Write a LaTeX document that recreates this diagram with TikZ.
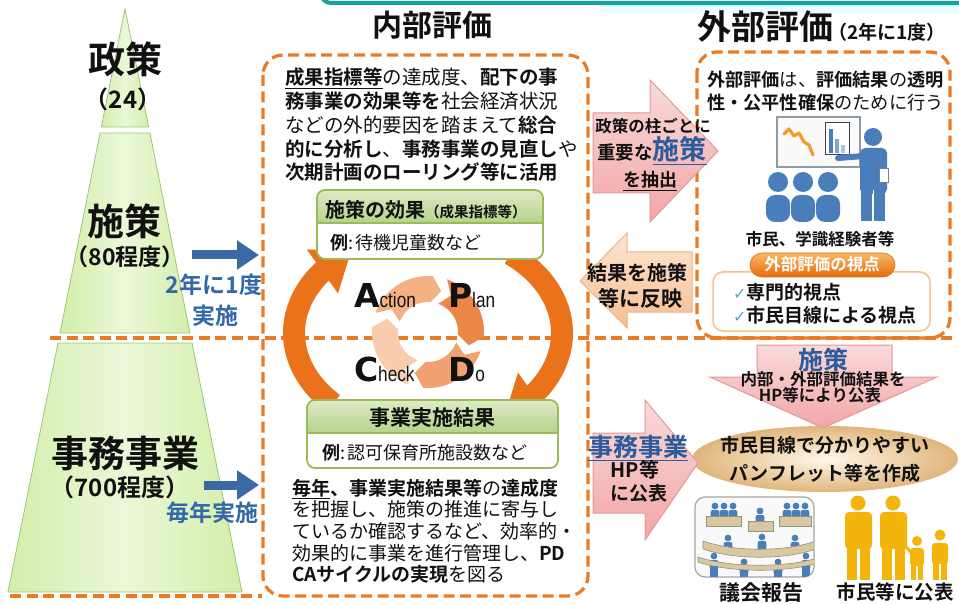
\documentclass[tikz,border=0pt]{standalone}
\usepackage{fontspec}
\usepackage{graphicx}
\setmainfont{Noto Sans CJK JP}[BoldFont={Noto Sans CJK JP Bold}]
\newfontfamily\pdcabig{DejaVu Sans}
\newfontfamily\pdcasmall{Liberation Sans}
\newfontfamily\symfont{DejaVu Sans}
\usetikzlibrary{arrows.meta}

\definecolor{ink}{HTML}{111111}
\definecolor{dashorange}{HTML}{EC7A22}
\definecolor{arcorange}{HTML}{E9721B}
\definecolor{pyrfill}{HTML}{D3EEAA}
\definecolor{pyrlight}{HTML}{EAF8D8}
\definecolor{pyredge}{HTML}{9DC67C}
\definecolor{bluetxt}{HTML}{3468A8}
\definecolor{arrowblue}{HTML}{3B69A6}
\definecolor{greenedge}{HTML}{9BBB59}
\definecolor{greentop}{HTML}{DDEBC6}
\definecolor{greenbot}{HTML}{B7D28A}
\definecolor{pinktop}{HTML}{FADADA}
\definecolor{pinkbot}{HTML}{F2A6A7}
\definecolor{pinkedge}{HTML}{E39899}
\definecolor{peachtop}{HTML}{FDE5D0}
\definecolor{peachbot}{HTML}{F6BE93}
\definecolor{peachedge}{HTML}{EEB27F}
\definecolor{ringA}{HTML}{F4B183}
\definecolor{ringB}{HTML}{EC8747}
\definecolor{ringC}{HTML}{F0A272}
\definecolor{ringD}{HTML}{F8CDAF}
\definecolor{bannerteal}{HTML}{17A0A0}
\definecolor{peopleblue}{HTML}{4A7EBB}
\definecolor{citizengold}{HTML}{F3B40C}
\definecolor{checkblue}{HTML}{4BACC6}
\definecolor{pilltop}{HTML}{FAB866}
\definecolor{pillbot}{HTML}{E36C0A}
\definecolor{pillbox}{HTML}{F3C28E}
\definecolor{blobin}{HTML}{FFF8EA}
\definecolor{blobout}{HTML}{E0B57A}
\definecolor{deskfill}{HTML}{D8C7A0}
\definecolor{deskedge}{HTML}{9A9080}
\definecolor{boardedge}{HTML}{8E9AA6}
\definecolor{chartorange}{HTML}{F29B30}
\definecolor{titleblue}{HTML}{2C5C9C}

\newcommand\setfz[1]{\fontsize{#1}{#1}\selectfont}
% one arrow segment of the small PDCA ring: start, end, tip angle, notch angle, colour
\newcommand\ringseg[5]{%
  \fill[#5] plot[domain=#1:#2,samples=24] ({428+56*cos(\x)},{332+56*sin(\x)})
    -- ({428+43*cos(#3)},{332+43*sin(#3)})
    -- plot[domain=#2:#1,samples=24] ({428+30*cos(\x)},{332+30*sin(\x)})
    -- ({428+43*cos(#4)},{332+43*sin(#4)}) -- cycle;}
% a small seated member in the council icon
\newcommand\seat[2]{%
  \fill[peopleblue] (#1,#2) circle (3.4);
  \fill[peopleblue,rounded corners=1.5pt] ({#1-4.3},{#2+4}) rectangle ({#1+4.3},{#2+13});}

\begin{document}
\begin{tikzpicture}[x=1pt,y=-1pt,
  lbl/.style={inner sep=0pt, outer sep=0pt, anchor=base west, text=ink},
  clbl/.style={inner sep=0pt, outer sep=0pt, anchor=base, text=ink},
  dashedge/.style={draw=dashorange, line width=3.2pt, dash pattern=on 11pt off 5.5pt},
  pyrpart/.style={left color=pyrfill, right color=pyrfill, middle color=pyrlight, draw=pyredge, line width=0.8pt},
  bluearrow/.style={draw=arrowblue, line width=9pt, -{Triangle[width=28pt,length=22pt]}},
  bigarc/.style={draw=arcorange, line width=22pt},
  greenbox/.style={draw=greenedge, line width=1.8pt, rounded corners=8pt},
  pinkarrow/.style={top color=pinktop, bottom color=pinkbot, draw=pinkedge, line width=1pt},
  peacharrow/.style={top color=peachtop, bottom color=peachbot, draw=peachedge, line width=1pt},
  deskstyle/.style={fill=deskfill, draw=deskedge, line width=0.6pt},
  citizen/.style={fill=citizengold},
  presenter/.style={fill=peopleblue}
]
\useasboundingbox (0,0) rectangle (959,604);
\fill[white] (0,0) rectangle (959,604);

% ---- banner edge at the top
\shade[top color=cyan!18, bottom color=white] (600,4) rectangle (959,14);
\draw[bannerteal, line width=4pt, rounded corners=10pt] (321,-12) -- (321,3) -- (968,3);

% ---- pyramid
\path[pyrpart] (125,9) -- (148.7,127) -- (101.3,127) -- cycle;
\path[pyrpart] (100.1,133) -- (149.9,133) -- (190,333) -- (60,333) -- cycle;
\path[pyrpart] (58,343) -- (192,343) -- (242,592) -- (8,592) -- cycle;

\node[clbl] (seisaku) at (125,74) {\setfz{37}\textbf{政策}};
\node[clbl] (seisakuN) at (123,109) {\setfz{24}\textbf{（24）}};
\node[clbl] (shisaku) at (124,236) {\setfz{37}\textbf{施策}};
\node[clbl] (shisakuN) at (125,266) {\setfz{23}\textbf{（80程度）}};
\node[clbl] (jimu) at (125,467) {\setfz{37}\textbf{事務事業}};
\node[clbl] (jimuN) at (120,496) {\setfz{24}\textbf{（700程度）}};

% ---- evaluation cycle arrows from the pyramid
\coordinate (shisakuFrom) at (192,255);
\coordinate (shisakuTo) at (259,255);
\draw[bluearrow] (shisakuFrom) -- (shisakuTo);
\node[clbl, text=bluetxt] (twoYear) at (214,294) {\setfz{23}\textbf{2年に1度}};
\node[clbl, text=bluetxt] (twoYearB) at (215,324) {\setfz{23}\textbf{実施}};
\coordinate (jimuFrom) at (204,485);
\coordinate (jimuTo) at (259,485);
\draw[bluearrow] (jimuFrom) -- (jimuTo);
\node[clbl, text=bluetxt] (everyYear) at (212,521) {\setfz{23}\textbf{毎年実施}};

% ---- dashed frames
\draw[dashedge] (50,338) -- (955,338);
\draw[dashedge] (10,596) -- (262,596);
\draw[dashedge, rounded corners=20pt] (263,55) rectangle (588,596);
\draw[dashedge, rounded corners=20pt] (697,52) rectangle (950,338);

% ---- headings
\node[clbl] (naibu) at (432,36.4) {\setfz{30}\textbf{内部評価}};
\node[lbl] (gaibu) at (697,39.5) {\setfz{34}\textbf{外部評価}\hspace{-5pt}\setfz{19}\textbf{（2年に1度）}};

% ---- internal evaluation text (policy level)
\node[lbl] (pA1) at (285,84.5) {\setfz{19.5}\textbf{\underline{成果指標等}}の達成度、\textbf{配下の事}};
\node[lbl] (pA2) at (285,108.5) {\setfz{19.5}\textbf{務事業の効果等を}社会経済状況};
\node[lbl] (pA3) at (285,132.5) {\setfz{19.5}などの外的要因を踏まえて\textbf{総合}};
\node[lbl] (pA4) at (285,156.5) {\setfz{19.5}\textbf{的に分析し}、\textbf{事務事業の見直し}や};
\node[lbl] (pA5) at (285,179.5) {\setfz{19.5}\textbf{次期計画のローリング等に活用}};

% ---- big cycle arrows
\draw[bigarc] plot[domain=135:222,samples=50] ({428+134*cos(\x)},{333+100*sin(\x)});
\fill[arcorange] (306.8,249.4) -- (351.1,251.1) -- (338,293.4) -- cycle;
\draw[bigarc] plot[domain=-52:42,samples=50] ({428+134*cos(\x)},{333+100*sin(\x)});
\fill[arcorange] (549.2,416.6) -- (504.9,414.9) -- (518,372.6) -- cycle;

% ---- small PDCA ring
\ringseg{-160}{-85}{-72}{-148}{ringA}
\ringseg{-70}{5}{18}{-58}{ringB}
\ringseg{20}{95}{108}{32}{ringC}
\ringseg{110}{185}{198}{122}{ringD}
\node[lbl] (act) at (354,308) {\pdcabig\bfseries\setfz{33}A\pdcasmall\mdseries\setfz{21}\scalebox{0.82}[1]{ction}};
\node[lbl] (plan) at (448,308) {\pdcabig\bfseries\setfz{33}P\pdcasmall\mdseries\setfz{21}\scalebox{0.82}[1]{lan}};
\node[lbl] (chk) at (354,381) {\pdcabig\bfseries\setfz{33}C\pdcasmall\mdseries\setfz{21}\scalebox{0.82}[1]{heck}};
\node[lbl] (doo) at (448,381) {\pdcabig\bfseries\setfz{33}D\pdcasmall\mdseries\setfz{21}\scalebox{0.82}[1]{o}};

% ---- green box: effect of measures
\fill[white, rounded corners=8pt] (317,190) rectangle (543,259);
\begin{scope}
  \clip[rounded corners=8pt] (317,190) rectangle (543,259);
  \shade[top color=greentop, bottom color=greenbot] (317,190) rectangle (543,223);
\end{scope}
\draw[greenedge, line width=1.2pt] (317,223) -- (543,223);
\draw[greenbox] (317,190) rectangle (543,259);
\node[lbl] (effHead) at (325,217.6) {\setfz{20}\textbf{施策の効果}\setfz{14.5}\textbf{（成果指標等）}};
\node[lbl] (effEx) at (330,250) {\setfz{18}\textbf{例}:\,待機児童数など};

% ---- green box: results of projects
\fill[white, rounded corners=8pt] (307,400) rectangle (558,468);
\begin{scope}
  \clip[rounded corners=8pt] (307,400) rectangle (558,468);
  \shade[top color=greentop, bottom color=greenbot] (307,400) rectangle (558,433);
\end{scope}
\draw[greenedge, line width=1.2pt] (307,433) -- (558,433);
\draw[greenbox] (307,400) rectangle (558,468);
\node[clbl] (resHead) at (432,425) {\setfz{21}\textbf{事業実施結果}};
\node[lbl] (resEx) at (322,459) {\setfz{18}\textbf{例}:\,認可保育所施設数など};

% ---- internal evaluation text (project level)
\node[lbl] (pB1) at (292,495.5) {\setfz{19}\textbf{\underline{毎年}、事業実施結果等}の\textbf{達成度}};
\node[lbl] (pB2) at (292,516.5) {\setfz{19}を把握し、施策の推進に寄与し};
\node[lbl] (pB3) at (292,538.5) {\setfz{19}ているか確認するなど、効率的・};
\node[lbl] (pB4) at (292,560.5) {\setfz{19}効果的に事業を進行管理し、\textbf{PD}};
\node[lbl] (pB5) at (292,581.5) {\setfz{19}\textbf{CAサイクルの実現}を図る};

% ---- arrows between internal and external evaluation
\path[pinkarrow] (593,113) -- (650,113) -- (650,80) -- (718,151) -- (650,222) -- (650,193) -- (593,193) -- cycle;
\node[clbl] (pick1) at (653,133) {\setfz{16.5}\textbf{政策の柱ごとに}};
\node[clbl] (pick2) at (652,160) {\setfz{18.5}\textbf{重要な}{\color{titleblue}\setfz{27}\textbf{\underline{施策}}}};
\node[clbl] (pick3) at (650,187) {\setfz{18}\textbf{\underline{を抽出}}};

\path[peacharrow] (692,252) -- (627,252) -- (627,233) -- (580,281) -- (627,328) -- (627,312) -- (692,312) -- cycle;
\node[clbl] (reflect1) at (637,280) {\setfz{20}\textbf{結果を施策}};
\node[clbl] (reflect2) at (640,306) {\setfz{21}\textbf{等に反映}};

% ---- external evaluation
\node[lbl] (ext1) at (707,87) {\setfz{18.2}\textbf{外部評価}は、\textbf{評価結果}の\textbf{透明}};
\node[lbl] (ext2) at (707,110) {\setfz{18.2}\textbf{性・公平性確保}のために行う};

% presentation board
\draw[fill=gray!4, draw=boardedge, line width=1.3pt] (777,117) rectangle (860,167);
\draw[chartorange, line width=3.2pt, line join=round, line cap=round]
  (784,134) -- (789,129) -- (794,136) -- (799,133) -- (804,142) -- (809,145) -- (813,155);
\draw[fill=white, draw=black!75, line width=1pt] (825,123) rectangle (849,155);
\fill[peopleblue] (829,129) rectangle (833,153);
\fill[peopleblue!70] (835,139) rectangle (839,153);
\fill[peopleblue!45] (841,145) rectangle (845,153);
% presenter
\fill[presenter] (873,137) circle (9);
\draw[peopleblue, line width=6pt, line cap=round] (864,156) -- (838,158);
\fill[presenter, rounded corners=5pt] (860,148) rectangle (887,194);
\fill[presenter] (861,188) rectangle (872,221);
\fill[presenter] (874,188) rectangle (885,221);
\draw[white, line width=0.8pt] (873,190) -- (873,221);
\draw[fill=white, draw=gray, line width=0.6pt] (879,168) rectangle (888,182);
% audience
\fill[presenter] (778,182) circle (10);
\fill[presenter] (803,182) circle (10);
\fill[presenter] (828,182) circle (10);
\fill[presenter, rounded corners=9pt] (766,195) rectangle (790,222);
\fill[presenter, rounded corners=9pt] (791,195) rectangle (815,222);
\fill[presenter, rounded corners=9pt] (816,195) rectangle (840,222);

\node[clbl] (experts) at (820,246) {\setfz{16.5}\textbf{市民、学識経験者等}};

\draw[draw=pillbox, line width=1.5pt, fill=white, rounded corners=10pt] (713,272) rectangle (930,331);
\path[top color=pilltop, bottom color=pillbot, draw=pillbot, line width=0.6pt, rounded corners=12pt] (750,253) rectangle (895,277);
\node[clbl, text=white] (viewpoint) at (822,271) {\setfz{16.5}\textbf{外部評価の視点}};
\node[lbl] (view1) at (733,299) {{\symfont\color{checkblue}\setfz{16}✓}\setfz{19}\textbf{専門的視点}};
\node[lbl] (view2) at (733,322) {{\symfont\color{checkblue}\setfz{16}✓}\setfz{19}\textbf{市民目線による視点}};

% ---- publication (bottom right)
\shade[inner color=blobin, outer color=blobout] (825,459) ellipse [x radius=133, y radius=33];
\node[clbl] (pamph1) at (825,452) {\setfz{19}\textbf{市民目線で分かりやすい}};
\node[clbl] (pamph2) at (825,480) {\setfz{19}\textbf{パンフレット等を作成}};

\path[pinkarrow] (757,345) -- (892,345) -- (892,377) -- (937,377) -- (823,428) -- (710,377) -- (757,377) -- cycle;
\node[clbl, text=titleblue] (pubHead) at (823,369.5) {\setfz{25}\textbf{施策}};
\node[clbl] (pub1) at (823,385) {\setfz{16.5}\textbf{内部・外部評価結果を}};
\node[clbl] (pub2) at (820,401) {\setfz{16.5}\textbf{HP等により公表}};

\path[pinkarrow] (593,433) -- (645,433) -- (645,400) -- (698,463) -- (645,540) -- (645,513) -- (593,513) -- cycle;
\node[clbl, text=titleblue] (hpHead) at (638,456.5) {\setfz{25}\textbf{\underline{事務事業}}};
\node[clbl] (hp1) at (635,477.6) {\setfz{20}\textbf{HP等}};
\node[clbl] (hp2) at (639,500) {\setfz{19}\textbf{に公表}};

% council icon
\draw[draw=gray!70, fill=gray!5, line width=1.2pt, rounded corners=10pt] (695,497) rectangle (814,577);
\begin{scope}
  \clip[rounded corners=10pt] (695,497) rectangle (814,577);
  \seat{715}{506}\seat{724}{506}\seat{733}{506}
  \draw[deskstyle] (706,516) rectangle (741,526);
  \seat{760}{511}
  \draw[deskstyle] (748,521) rectangle (773,531);
  \seat{787}{506}\seat{796}{506}\seat{805}{506}
  \draw[deskstyle] (779,516) rectangle (811,526);
  \seat{728}{538}\seat{762}{537}\seat{795}{538}
  \draw[deskstyle] (703,541) .. controls (735,552) and (785,552) .. (816,541)
     -- (816,549) .. controls (785,560) and (735,560) .. (703,549) -- cycle;
  \seat{714}{556}\seat{744}{562}\seat{778}{562}\seat{806}{556}
  \draw[deskstyle] (698,557) .. controls (730,568) and (790,568) .. (820,557)
     -- (820,562) .. controls (790,573) and (730,573) .. (698,562) -- cycle;
  \fill[peopleblue] (710,566) rectangle (718,577);
  \fill[peopleblue] (740,570) rectangle (748,577);
  \fill[peopleblue] (774,570) rectangle (782,577);
  \fill[peopleblue] (802,566) rectangle (810,577);
\end{scope}
\node[clbl] (council) at (761,600) {\setfz{21}\textbf{議会報告}};

% citizens
\fill[citizen] (858,503) circle (7.5);
\fill[citizen, rounded corners=4pt] (845,512) rectangle (872,549);
\fill[citizen] (847,545) rectangle (857,580);
\fill[citizen] (860,545) rectangle (870,580);
\fill[citizen] (893,503) circle (7.5);
\fill[citizen, rounded corners=4pt] (880,512) rectangle (907,549);
\fill[citizen] (882,545) rectangle (892,580);
\fill[citizen] (895,545) rectangle (905,580);
\draw[citizengold, line width=3pt] (905,546) -- (912,553);
\fill[citizen] (917,541) circle (5);
\fill[citizen, rounded corners=3pt] (910,548) rectangle (924,566);
\fill[citizen] (911,562) rectangle (916,580);
\fill[citizen] (918,562) rectangle (923,580);
\fill[citizen] (940,535) circle (5.5);
\fill[citizen, rounded corners=3pt] (932,543) rectangle (948,564);
\fill[citizen] (933,560) rectangle (939,580);
\fill[citizen] (941,560) rectangle (947,580);
\node[clbl] (citizens) at (895,599.5) {\setfz{19.5}\textbf{市民等に公表}};
\end{tikzpicture}
\end{document}
